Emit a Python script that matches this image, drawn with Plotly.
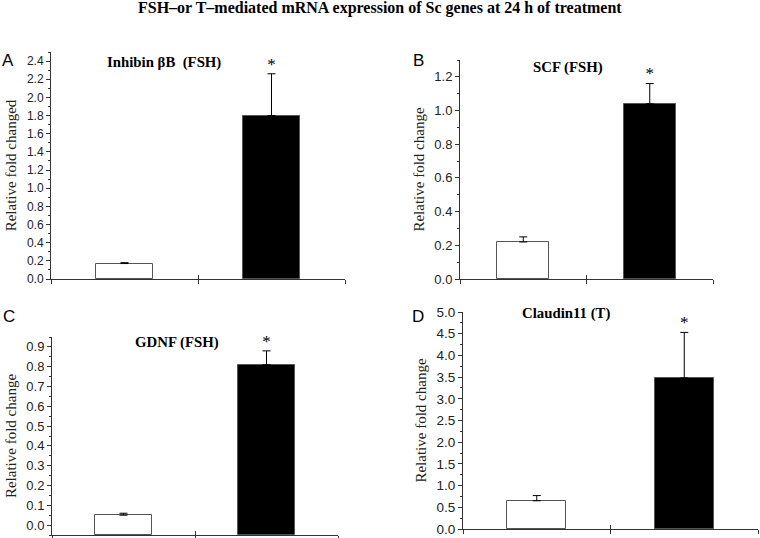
import plotly.graph_objects as go

categories = ["Control", "Treated"]

# Panel values (mean, upper SEM)
a_values = [0.17, 1.80]
a_errors = [0.01, 0.46]
b_values = [0.22, 1.04]
b_errors = [0.03, 0.12]
c_values = [0.05, 0.81]
c_errors = [0.01, 0.07]
d_values = [0.65, 3.48]
d_errors = [0.12, 1.05]

titles = ["Inhibin βB  (FSH)", "SCF (FSH)", "GDNF (FSH)", "Claudin11 (T)"]
letters = ["A", "B", "C", "D"]
ytitles = ["Relative fold changed", "Relative fold change", "Relative fold change", "Relative fold change"]
yranges = [[0, 2.5], [0, 1.3], [-0.05, 0.95], [0, 5.0]]
ydticks = [0.2, 0.2, 0.1, 0.5]
ytick0 = [0, 0, 0, 0]
yminor = [0.1, 0.1, 0.05, 0.25]
bar_widths = [0.39, 0.41, 0.40, 0.40]
bar_fill = ["white", "black"]

panels = [(a_values, a_errors), (b_values, b_errors), (c_values, c_errors), (d_values, d_errors)]

W, H = 760, 538


def px_x(px):
    return px / W


def px_y(py):
    return 1 - py / H


# plot-area boxes in pixels: (left, right, top, bottom)
boxes = [(51, 345, 52, 279), (460, 713, 60, 279), (52, 338, 337, 535), (463, 758, 312, 529)]
tick_sizes = [12, 13, 13, 13.5]

serif = "Liberation Serif, Times New Roman, serif"
sans = "Liberation Sans, Arial, sans-serif"

fig = go.Figure()
xpos = [i + 0.5 for i in range(len(categories))]

for k, (vals, errs) in enumerate(panels):
    n = k + 1
    xa = "x" if n == 1 else f"x{n}"
    ya = "y" if n == 1 else f"y{n}"
    l, r, t, b = boxes[k]
    base = yranges[k][0]
    fig.add_trace(go.Bar(
        x=xpos, y=[v - base for v in vals], base=base,
        width=bar_widths[k],
        marker=dict(color=bar_fill, line=dict(color="#555555", width=1)),
        error_y=dict(type="data", symmetric=False, array=errs,
                     arrayminus=[0] * len(errs), color="black",
                     thickness=1, width=4),
        xaxis=xa, yaxis=ya, showlegend=False, hoverinfo="skip",
    ))
    # significance asterisk above treated bar
    fig.add_trace(go.Scatter(
        x=[xpos[1]], y=[vals[1] + errs[1]], mode="text", text=["*"],
        textposition="top center", textfont=dict(family=serif, size=17, color="black"),
        xaxis=xa, yaxis=ya, showlegend=False, hoverinfo="skip", cliponaxis=False,
    ))
    # overlay axis to give x ticks that cross the axis line
    m = n + 4
    fig.add_trace(go.Scatter(x=[None], y=[None], xaxis=f"x{m}", yaxis=ya,
                             showlegend=False, hoverinfo="skip"))
    axis_common = dict(showline=True, linecolor="#333333", linewidth=1, mirror=False,
                       showgrid=False, zeroline=False, automargin=False)
    fig.layout[f"xaxis{'' if n == 1 else n}"] = dict(
        domain=[px_x(l), min(px_x(r), 1)], anchor=ya, range=[0, 2],
        tickmode="array", tickvals=[0, 1, 2], ticktext=["", "", ""],
        ticks="outside", ticklen=4, tickcolor="#333333",
        **axis_common)
    fig.layout[f"xaxis{m}"] = dict(
        overlaying=xa, anchor=ya, range=[0, 2], side="bottom",
        tickmode="array", tickvals=[0, 1, 2], ticktext=["", "", ""],
        ticks="inside", ticklen=4, tickcolor="#333333",
        showline=False, showgrid=False, zeroline=False, automargin=False)
    fig.layout[f"yaxis{'' if n == 1 else n}"] = dict(
        domain=[max(px_y(b), 0), px_y(t)], anchor=xa, range=yranges[k],
        tickmode="linear", tick0=ytick0[k], dtick=ydticks[k], tickformat=".1f",
        ticks="outside", ticklen=4, tickcolor="#333333",
        minor=dict(ticks="outside", ticklen=2, tickcolor="#333333", dtick=yminor[k]),
        tickfont=dict(family=sans, size=tick_sizes[k], color="#222222"),
        title=dict(text=ytitles[k], font=dict(family=serif, size=15, color="#222222"), standoff=6),
        **axis_common)

# panel titles (pixel centres)
title_pos = [(164, 62), (568, 68), (177, 342), (566, 313)]
for (px, py), t in zip(title_pos, titles):
    fig.add_annotation(x=px_x(px), y=px_y(py), xref="paper", yref="paper",
                       xanchor="center", yanchor="middle",
                       text=f"<b>{t}</b>", showarrow=False,
                       font=dict(family=serif, size=14.8, color="black"))

letter_pos = [(8, 61), (418, 61), (9, 316), (418, 316)]
for (px, py), t in zip(letter_pos, letters):
    fig.add_annotation(x=px_x(px), y=px_y(py), xref="paper", yref="paper",
                       xanchor="center", yanchor="middle",
                       text=t, showarrow=False,
                       font=dict(family=sans, size=17, color="black"))

fig.add_annotation(x=px_x(380), y=px_y(8), xref="paper", yref="paper",
                   xanchor="center", yanchor="middle",
                   text="<b>FSH–or T–mediated mRNA expression of Sc genes at 24 h of treatment</b>",
                   showarrow=False, font=dict(family=serif, size=16, color="black"))

fig.update_layout(width=W, height=H, margin=dict(l=0, r=0, t=0, b=0, autoexpand=False),
                  paper_bgcolor="white", plot_bgcolor="white", bargap=0)

fig.write_html("out.html", config={"displayModeBar": False},
               post_script="document.body.style.margin='0px';")
